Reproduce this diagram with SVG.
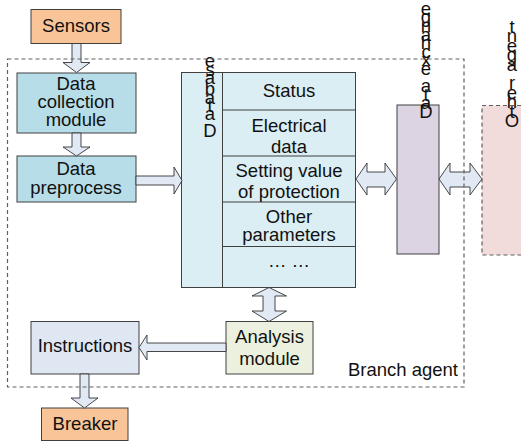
<svg xmlns="http://www.w3.org/2000/svg" width="521" height="441" viewBox="0 0 521 441">
<style>
text{font-family:"Liberation Sans",Arial,sans-serif;font-size:18.5px;fill:#111;}
.c{text-anchor:middle;}
.box{stroke:#404040;stroke-width:1;}
.arrow{fill:#e1e9f5;stroke:#333;stroke-width:0.9;stroke-linejoin:miter;}
.dash{fill:none;stroke:#606060;stroke-width:1.2;stroke-dasharray:4 3;}
</style>
<rect width="521" height="441" fill="#fff"/>

<g id="sensors">
<rect class="box" x="31" y="9.5" width="90" height="34" fill="#f9c598"/>
<text class="c" x="76" y="32">Sensors</text>
</g>
<g id="data-collection">
<rect class="box" x="17" y="73" width="119" height="60" fill="#b7dee8"/>
<text class="c" x="76" y="89.5">Data</text>
<text class="c" x="76" y="108">collection</text>
<text class="c" x="76" y="126">module</text>
</g>
<g id="data-preprocess">
<rect class="box" x="17" y="156" width="119" height="46" fill="#b7dee8"/>
<text class="c" x="76" y="175">Data</text>
<text class="c" x="76" y="193.5">preprocess</text>
</g>
<g id="database">
<rect class="box" x="181.5" y="72.5" width="174" height="215" fill="#dbeef4"/>
<line class="box" x1="222.5" y1="72.5" x2="222.5" y2="287.5"/>
<line class="box" x1="222.5" y1="110" x2="355.5" y2="110"/>
<line class="box" x1="222.5" y1="156" x2="355.5" y2="156"/>
<line class="box" x1="222.5" y1="202" x2="355.5" y2="202"/>
<line class="box" x1="222.5" y1="246.5" x2="355.5" y2="246.5"/>
<text class="c" x="210 210 210 210 210 210 210 210" y="136.5 120 112 104 95 84 75.5 66.5">Database</text>
<text class="c" x="289" y="96.5">Status</text>
<text class="c" x="289" y="131.5">Electrical</text>
<text class="c" x="289" y="153">data</text>
<text class="c" x="289" y="176.5">Setting value</text>
<text class="c" x="289" y="198">of protection</text>
<text class="c" x="289" y="222.5">Other</text>
<text class="c" x="289" y="240.5">parameters</text>
<text class="c" x="289" y="267">… …</text>
</g>
<g id="data-exchange">
<rect class="box" x="397" y="105" width="42" height="149" fill="#dcd4e2"/>
<text class="c" x="426 426 426 426 426 426 426 426 426 426 426 426 426" y="118 109.4 100.8 92.2 83.6 75 66.4 57.8 49.2 40.6 32 23.4 14.8">Data exchange</text>
</g>
<g id="other-agent">
<rect class="dash" x="482" y="105.5" width="50" height="149.5" style="fill:#f2dcdb"/>
<text class="c" x="512 512 512 512 512 512 512 512 512 512 512" y="127 117.6 108.2 98.8 89.4 80 70.6 61.2 51.8 42.4 33">Other agent</text>
</g>
<g id="analysis">
<rect class="box" x="226" y="321.5" width="87" height="52.5" fill="#ebf1de"/>
<text class="c" x="269.5" y="342.5">Analysis</text>
<text class="c" x="269.5" y="364.5">module</text>
</g>
<g id="instructions">
<rect class="box" x="31" y="321.5" width="108" height="52.5" fill="#dfe7f3"/>
<text class="c" x="85" y="352">Instructions</text>
</g>
<g id="breaker">
<rect class="box" x="41.5" y="408" width="86.5" height="32.5" fill="#f9c598"/>
<text class="c" x="85" y="430">Breaker</text>
</g>

<g id="connectors">
<polygon class="arrow" points="72,43.5 81,43.5 81,62.5 90,62.5 76.5,72.5 63,62.5 72,62.5"/>
<polygon class="arrow" points="72,133 81,133 81,147 90,147 76.5,156 63,147 72,147"/>
<polygon class="arrow" points="136,176 174,176 174,167 182,180.5 174,194 174,185 136,185"/>
<polygon class="arrow" points="356,179 367,163 367,172 385,172 385,163 396.5,179 385,195 385,187 367,187 367,195"/>
<polygon class="arrow" points="439,179 450,163 450,172 470,172 470,163 482,179 470,195 470,187 450,187 450,195"/>
<polygon class="arrow" points="269,287.5 286.5,296 275,296 275,311 286.5,311 269,321.5 252,311 263,311 263,296 252,296"/>
<polygon class="arrow" points="226,343 147,343 147,335 139,347.5 147,360 147,351.5 226,351.5"/>
<polygon class="arrow" points="80,374 89,374 89,398 98,398 84.5,408 71,398 80,398"/>
</g>

<g id="branch-agent">
<rect class="dash" x="7.5" y="59" width="456.5" height="328"/>
<text x="458" y="376" text-anchor="end">Branch agent</text>
</g>
</svg>
